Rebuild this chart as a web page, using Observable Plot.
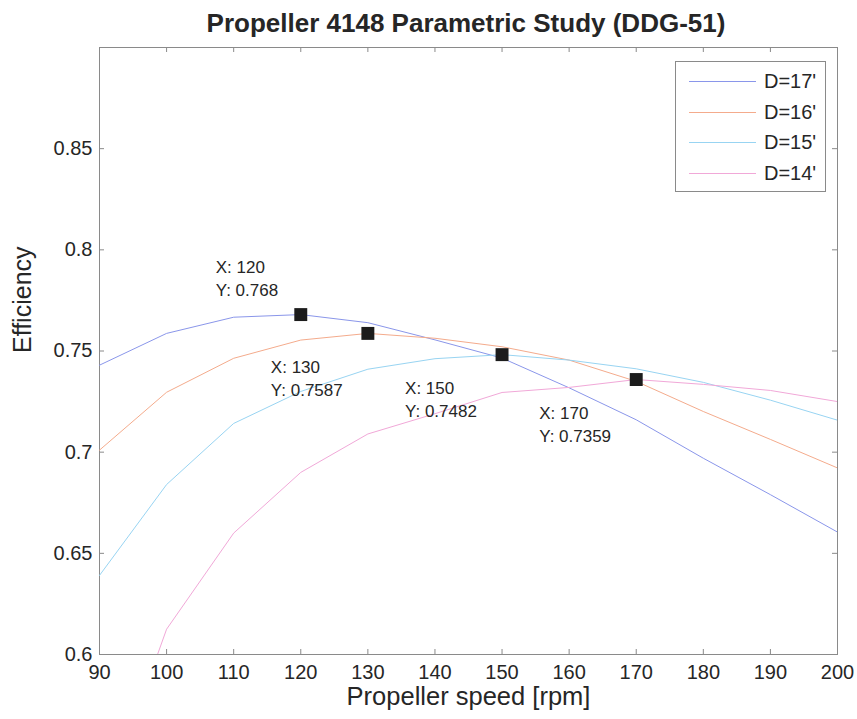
<!DOCTYPE html>
<html><head><meta charset="utf-8">
<script src="https://cdn.jsdelivr.net/npm/d3@7"></script>
<script src="https://cdn.jsdelivr.net/npm/@observablehq/plot@0.6"></script>
<style>
body{margin:0;background:#fff;font-family:"Liberation Sans",Arial,sans-serif;}
#wrap{position:relative;width:857px;height:719px;overflow:hidden;}
#title{height:40px;box-sizing:border-box;padding-top:10px;padding-left:75px;text-align:center;font:bold 26px/26px "Liberation Sans",Arial,sans-serif;color:#262626;white-space:nowrap;}
#chart svg{display:block;}
#legend{position:absolute;left:675px;top:61px;width:151px;height:131px;box-sizing:border-box;border:1px solid #8a8a8a;background:#fff;}
.lrow{position:absolute;left:0;height:0;}
.lline{position:absolute;left:13px;width:67px;height:0;border-top:1px solid;}
.ltext{position:absolute;left:88px;top:-12px;font:20px/24px "Liberation Sans",Arial,sans-serif;color:#262626;white-space:nowrap;}
</style></head>
<body>
<div id="wrap">
<div id="title">Propeller 4148 Parametric Study (DDG-51)</div>
<div id="chart"></div>
<div id="legend"></div>
</div>
<script>
// Data
const rpm = [90, 100, 110, 120, 130, 140, 150, 160, 170, 180, 190, 200];
const effD17 = [0.743, 0.7587, 0.7667, 0.768, 0.764, 0.7555, 0.7465, 0.7318, 0.716, 0.697, 0.679, 0.6605];
const effD16 = [0.701, 0.7296, 0.7464, 0.7554, 0.7587, 0.7563, 0.7521, 0.7455, 0.735, 0.7201, 0.7063, 0.6922];
const effD15 = [0.6391, 0.684, 0.7142, 0.730, 0.741, 0.7462, 0.7482, 0.7455, 0.7412, 0.7345, 0.7257, 0.7158];
const effD14 = [0.52, 0.6125, 0.660, 0.690, 0.709, 0.719, 0.7295, 0.732, 0.7359, 0.7335, 0.7305, 0.725];
const seriesNames = ["D=17'", "D=16'", "D=15'", "D=14'"];
const seriesColors = ["#8a96ea", "#f4ab8c", "#98d4f2", "#f1a8d8"];
const tipX = [120, 130, 150, 170];
const tipY = [0.768, 0.7587, 0.7482, 0.7359];
const xTicks = [90, 100, 110, 120, 130, 140, 150, 160, 170, 180, 190, 200];
const yTicks = [0.6, 0.65, 0.7, 0.75, 0.8, 0.85];
const xLabel = "Propeller speed [rpm]";
const yLabel = "Efficiency";

const seriesValues = [effD17, effD16, effD15, effD14];
const rows = [];
seriesNames.forEach((s, i) => rpm.forEach((x, j) => rows.push({series: s, x, y: seriesValues[i][j]})));
const tips = tipX.map((x, i) => ({x, y: tipY[i]}));
const tipText = d => `X: ${d.x}\nY: ${d.y}`;

const W = 857, H = 679, mT = 7, mB = 65, mL = 99, mR = 20;
const fh = H - mT - mB, fw = W - mL - mR, tk = 5;
const gray = "#8a8a8a";

const chart = Plot.plot({
  width: W, height: H,
  marginTop: mT, marginBottom: mB, marginLeft: mL, marginRight: mR,
  style: {fontFamily: "'Liberation Sans', Arial, sans-serif", color: "#262626", background: "#fff", overflow: "visible"},
  x: {domain: [90, 200]},
  y: {domain: [0.6, 0.9]},
  color: {domain: seriesNames, range: seriesColors},
  marks: [
    Plot.frame({stroke: gray}),
    Plot.tickX(xTicks, {x: d => d, insetTop: fh - tk, stroke: gray}),
    Plot.tickX(xTicks, {x: d => d, insetBottom: fh - tk, stroke: gray}),
    Plot.tickY(yTicks, {y: d => d, insetRight: fw - tk, stroke: gray}),
    Plot.tickY(yTicks, {y: d => d, insetLeft: fw - tk, stroke: gray}),
    Plot.axisX({ticks: xTicks, tickSize: 0, tickPadding: 10, fontSize: 20, label: null, tickFormat: d => String(d)}),
    Plot.axisY({ticks: yTicks, tickSize: 0, tickPadding: 7, fontSize: 20, label: null, tickFormat: d => String(d)}),
    Plot.line(rows, {x: "x", y: "y", z: "series", stroke: "series", strokeWidth: 1, clip: true}),
    Plot.dot(tips, {x: "x", y: "y", symbol: "square", r: 7.3, fill: "#1c1c1c"}),
    Plot.text(tips.slice(0, 1), {x: "x", y: "y", text: tipText, textAnchor: "start", lineAnchor: "top", lineHeight: 1.35, dx: -85, dy: -58, fontSize: 17, fill: "#262626"}),
    Plot.text(tips.slice(1), {x: "x", y: "y", text: tipText, textAnchor: "start", lineAnchor: "top", lineHeight: 1.35, dx: -97, dy: 23, fontSize: 17, fill: "#262626"}),
    Plot.text([xLabel], {frameAnchor: "bottom", text: d => d, dy: 50, fontSize: 25.5, fill: "#262626"}),
    Plot.text([yLabel], {frameAnchor: "left", text: d => d, dx: -77, dy: 2, rotate: -90, fontSize: 25, fill: "#262626"})
  ]
});
document.getElementById("chart").appendChild(chart);

const leg = document.getElementById("legend");
seriesNames.forEach((s, i) => {
  const row = document.createElement("div");
  row.className = "lrow";
  row.style.top = (19 + i * 30.5) + "px";
  const ln = document.createElement("div");
  ln.className = "lline";
  ln.style.borderTopColor = seriesColors[i];
  const tx = document.createElement("div");
  tx.className = "ltext";
  tx.textContent = s;
  row.appendChild(ln); row.appendChild(tx);
  leg.appendChild(row);
});
</script>
</body></html>
